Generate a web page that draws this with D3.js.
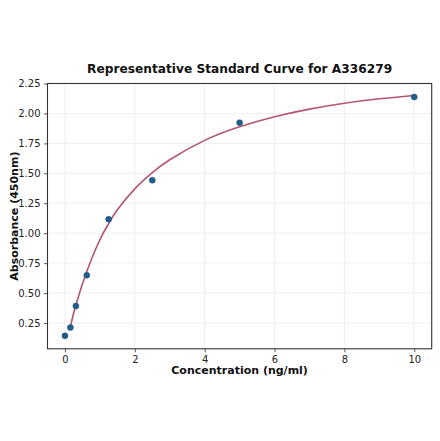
<!DOCTYPE html>
<html><head><meta charset="utf-8">
<script src="https://cdn.jsdelivr.net/npm/d3@7"></script>
<style>html,body{margin:0;padding:0;background:#fff;}svg{display:block;font-family:"DejaVu Sans",sans-serif;}</style>
</head><body>
<svg id="c" width="440" height="441"></svg>
<script>
const titleText = "Representative Standard Curve for A336279";
const xLabel = "Concentration (ng/ml)";
const yLabel = "Absorbance (450nm)";
const pointX = [0, 0.156, 0.3125, 0.625, 1.25, 2.5, 5, 10];
const pointY = [0.143, 0.212, 0.392, 0.648, 1.116, 1.442, 1.923, 2.137];
const curveX = [0.156, 0.3125, 0.625, 1, 1.25, 1.5, 2, 2.5, 3, 4, 5, 6, 7, 8, 9, 10];
const curveY = [0.222, 0.40, 0.68, 0.945, 1.08, 1.195, 1.37, 1.505, 1.613, 1.775, 1.888, 1.972, 2.036, 2.085, 2.122, 2.15];
const xTicks = [0, 2, 4, 6, 8, 10];
const yTicks = [0.25, 0.5, 0.75, 1.0, 1.25, 1.5, 1.75, 2.0, 2.25];

const L = 47.5, R = 431.7, T = 83.5, B = 348.8;
const svg = d3.select("#c");
const x = d3.scaleLinear().domain([-0.5, 10.5]).range([L, R]);
const y = d3.scaleLinear().domain([2.25 - (B - T) / 119.75 * 0.25 * 4, 2.25]).range([B, T]);

// grid
const g = svg.append("g");
g.selectAll("line.gx").data(xTicks).join("line")
  .attr("x1", d => x(d)).attr("x2", d => x(d)).attr("y1", T).attr("y2", B)
  .attr("stroke", "#ebebeb").attr("stroke-width", 0.8);
g.selectAll("line.gy").data(yTicks).join("line")
  .attr("y1", d => y(d)).attr("y2", d => y(d)).attr("x1", L).attr("x2", R)
  .attr("stroke", "#ebebeb").attr("stroke-width", 0.8);

// axes
const xAxis = svg.append("g").attr("transform", `translate(0,${B})`)
  .call(d3.axisBottom(x).tickValues(xTicks).tickFormat(d3.format("d")).tickSize(3.5).tickPadding(3.5));
const yAxis = svg.append("g").attr("transform", `translate(${L},0)`)
  .call(d3.axisLeft(y).tickValues(yTicks).tickFormat(d3.format(".2f")).tickSize(3.5).tickPadding(3.5));
[xAxis, yAxis].forEach(a => {
  a.select(".domain").remove();
  a.selectAll(".tick line").attr("stroke", "#333").attr("stroke-width", 0.8);
  a.selectAll(".tick text").attr("fill", "#222").style("font-size", "10px").style("font-family", "DejaVu Sans");
});

// frame
svg.append("rect").attr("x", L).attr("y", T).attr("width", R - L).attr("height", B - T)
  .attr("fill", "none").attr("stroke", "#333").attr("stroke-width", 1.1);

// curve
const line = d3.line().x(d => x(d[0])).y(d => y(d[1])).curve(d3.curveNatural);
svg.append("path").datum(curveX.map((v, i) => [v, curveY[i]]))
  .attr("d", line).attr("fill", "none").attr("stroke", "#b5546e").attr("stroke-width", 1.6);

// points
svg.selectAll("circle.p").data(pointX.map((v, i) => [v, pointY[i]])).join("circle")
  .attr("cx", d => x(d[0])).attr("cy", d => y(d[1])).attr("r", 3)
  .attr("fill", "#1f5f8f").attr("stroke", "#1a4a70").attr("stroke-width", 0.5);

// texts
svg.append("text").attr("x", (L + R) / 2).attr("y", 73).attr("text-anchor", "middle")
  .style("font-weight", "bold").style("font-size", "12.2px").attr("fill", "#111").text(titleText);
svg.append("text").attr("x", (L + R) / 2).attr("y", 374).attr("text-anchor", "middle")
  .style("font-weight", "bold").style("font-size", "11px").attr("fill", "#111").text(xLabel);
svg.append("text").attr("transform", `translate(18,${(T + B) / 2}) rotate(-90)`).attr("text-anchor", "middle")
  .style("font-weight", "bold").style("font-size", "11px").attr("fill", "#111").text(yLabel);
</script>
</body></html>
